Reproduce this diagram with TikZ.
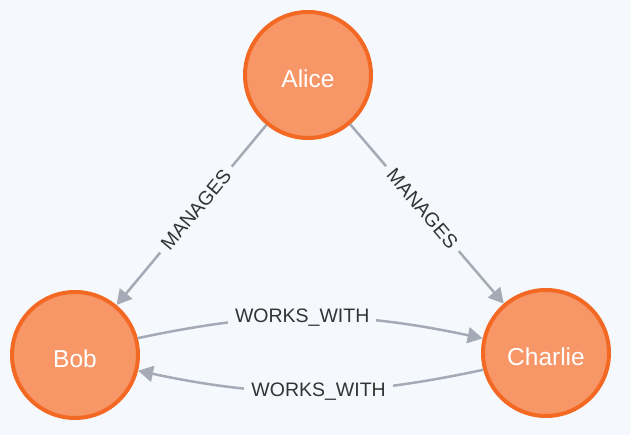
\documentclass[tikz,border=0pt]{standalone}
\usepackage{fontspec}
\setmainfont{Liberation Sans}
\usetikzlibrary{arrows.meta}
\definecolor{bgcol}{HTML}{F5F9FD}
\definecolor{nodefill}{HTML}{F79767}
\definecolor{nodeline}{HTML}{F36924}
\definecolor{edgecol}{HTML}{A5ABB6}
\definecolor{labcol}{HTML}{333333}
\tikzset{
  person/.style={circle, draw=nodeline, fill=nodefill, line width=4pt,
    minimum size=126pt, inner sep=0pt, text=white,
    font=\fontsize{24.5}{28}\selectfont, text height=24.5pt, text depth=0pt},
  rel/.style={draw=edgecol, line width=2.5pt,
    -{Triangle[length=15pt,width=16pt]}},
  rellabel/.style={fill=bgcol, text=labcol, inner xsep=7pt, inner ysep=1pt,
    font=\fontsize{19.5}{22}\selectfont}
}
\begin{document}
\begin{tikzpicture}[x=1pt,y=1pt]
  \fill[bgcol] (0,0) rectangle (630,435);
  \useasboundingbox (0,0) rectangle (630,435);
  \node[person] (alice) at (308,360) {Alice};
  \node[person] (bob) at (75,80) {Bob};
  \node[person] (charlie) at (546,82) {Charlie};
  \draw[rel] (alice) -- node[rellabel, sloped, pos=0.47] {MANAGES} (bob);
  \draw[rel] (alice) -- node[rellabel, sloped, pos=0.47] {MANAGES} (charlie);
  \draw[rel] (bob.15) to[out=12, in=168]
    node[rellabel, pos=0.475] {WORKS\_WITH} (charlie.167);
  \draw[rel] (charlie.195) to[out=192, in=-12]
    node[rellabel, pos=0.475] {WORKS\_WITH} (bob.-14);
\end{tikzpicture}
\end{document}
